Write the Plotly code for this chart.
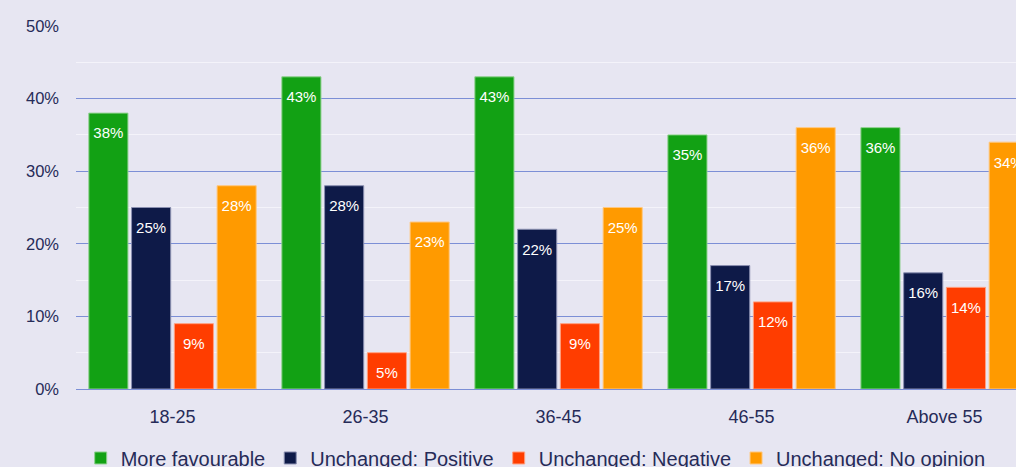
import plotly.graph_objects as go

categories = ["18-25", "26-35", "36-45", "46-55", "Above 55"]
series_names = ["More favourable", "Unchanged: Positive", "Unchanged: Negative", "Unchanged: No opinion"]
more_favourable = [38, 43, 43, 35, 36]
unchanged_positive = [25, 28, 22, 17, 16]
unchanged_negative = [9, 5, 9, 12, 14]
unchanged_no_opinion = [28, 23, 25, 36, 34]
colors = ["#12a114", "#0e1a48", "#ff3d00", "#ff9a00"]
line_colors = ["#8fd18f", "#8a8fb0", "#ffa080", "#ffc880"]

values = [more_favourable, unchanged_positive, unchanged_negative, unchanged_no_opinion]

FONT = "Liberation Sans, Arial, sans-serif"
TXT = "#262b58"

fig = go.Figure()
for name, vals, c, lc in zip(series_names, values, colors, line_colors):
    fig.add_trace(go.Bar(
        x=categories, y=vals, name=name,
        marker=dict(color=c, line=dict(color=lc, width=1)),
        hoverinfo="x+y+name",
    ))
for name, vals in zip(series_names, values):
    fig.add_trace(go.Scatter(
        x=categories, y=vals, name=name, showlegend=False,
        mode="markers+text",
        marker=dict(size=21, color="rgba(0,0,0,0)"),
        text=[f"{v}%" for v in vals],
        textposition="bottom center",
        textfont=dict(color="white", size=15, family=FONT),
        hoverinfo="skip", cliponaxis=True,
    ))

fig.update_layout(
    width=1016, height=490,
    margin=dict(l=76, r=0, t=26, b=101),
    paper_bgcolor="#e7e6f2", plot_bgcolor="#e7e6f2",
    barmode="group", bargap=0.114, bargroupgap=0.085,
    scattermode="group", scattergap=0.114,
    font=dict(family=FONT, color=TXT, size=16),
    legend=dict(orientation="h", x=0.005, xanchor="left", y=-0.19, yanchor="middle",
                font=dict(size=20, color=TXT), bgcolor="rgba(0,0,0,0)",
                itemclick=False),
    showlegend=True,
)
fig.update_xaxes(
    range=[-0.5, 4.37], showgrid=False, ticks="", tickfont=dict(size=18),
    showline=False, ticklabelstandoff=15,
)
fig.update_yaxes(
    range=[0, 50], dtick=10, ticksuffix="%", showgrid=True, gridcolor="#7c8fd6", gridwidth=1,
    zeroline=True, zerolinecolor="#7c8fd6", zerolinewidth=1,
    minor=dict(dtick=5, showgrid=True, gridcolor="#f4f3fa", gridwidth=1),
    tickfont=dict(size=16.5), ticks="", ticklabelstandoff=16,
)

fig.write_html(
    "out.html",
    config={"displayModeBar": False},
    post_script="document.body.style.margin='0';document.body.style.overflow='hidden';",
)
